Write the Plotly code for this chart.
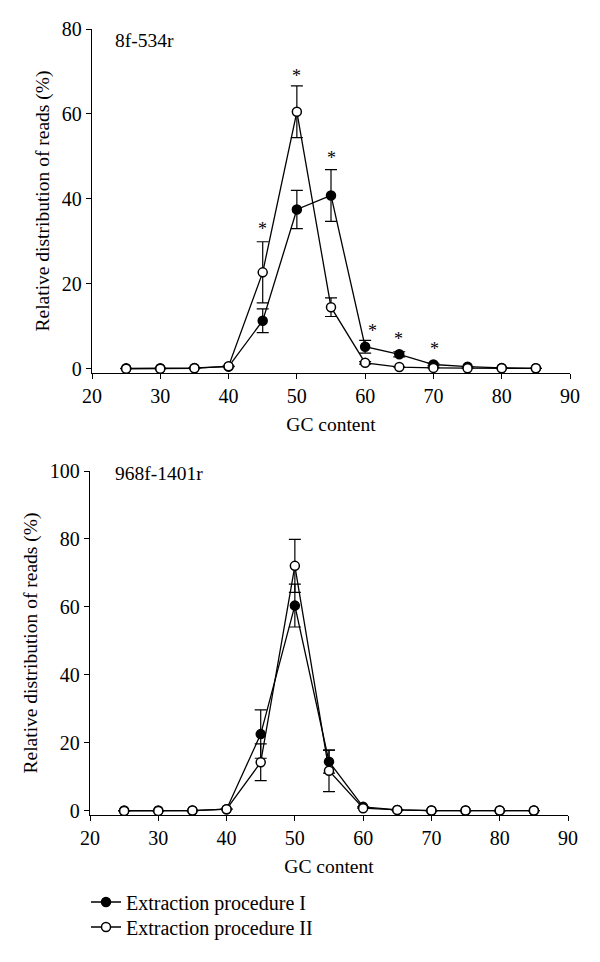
import plotly.graph_objects as go

gc = [25, 30, 35, 40, 45, 50, 55, 60, 65, 70, 75, 80, 85]

# Panel A: 8f-534r
a_proc1 = [0.1, 0.1, 0.2, 0.5, 11.3, 37.5, 40.8, 5.2, 3.4, 1.0, 0.5, 0.2, 0.1]
a_proc1_err = [0, 0, 0, 0, 2.8, 4.5, 6.1, 1.5, 0.6, 0.3, 0, 0, 0]
a_proc2 = [0.0, 0.0, 0.1, 0.6, 22.7, 60.5, 14.5, 1.4, 0.4, 0.2, 0.1, 0.1, 0.1]
a_proc2_err = [0, 0, 0, 0, 7.2, 6.1, 2.2, 0.3, 0, 0, 0, 0, 0]
a_star_x = [45, 50, 55, 61.1, 64.9, 70.2]
a_star_y = [32.8, 69.0, 49.7, 8.8, 7.0, 4.6]

# Panel B: 968f-1401r
b_proc1 = [0.1, 0.1, 0.1, 0.5, 22.6, 60.4, 14.5, 1.2, 0.3, 0.1, 0.1, 0.1, 0.1]
b_proc1_err = [0, 0, 0, 0, 7.1, 6.3, 3.4, 0, 0, 0, 0, 0, 0]
b_proc2 = [0.0, 0.0, 0.1, 0.5, 14.3, 72.1, 11.8, 0.8, 0.3, 0.1, 0.1, 0.1, 0.1]
b_proc2_err = [0, 0, 0, 0, 5.4, 7.8, 6.1, 0, 0, 0, 0, 0, 0]

x_ticks = [20, 30, 40, 50, 60, 70, 80, 90]
a_y_ticks = [0, 20, 40, 60, 80]
b_y_ticks = [0, 20, 40, 60, 80, 100]

names = ["Extraction procedure I", "Extraction procedure II"]
FONT = "Liberation Serif"

# page body has an 8px margin; figure is sized so that it fills the window
OFF = 8
W, H = 600 - OFF, 962 - OFF
def xp(p):
    return (p - OFF) / W
def yp(p):
    return 1 - (p - OFF) / H

fig = go.Figure()

def add_pair(p1, e1, p2, e2, xa, ya, show):
    err_style = dict(type="data", visible=True, color="black", thickness=1.2, width=6)
    fig.add_trace(go.Scatter(
        x=gc, y=p1, mode="lines+markers", name=names[0], showlegend=show, legend="legend",
        line=dict(color="black", width=1.3),
        marker=dict(symbol="circle", size=9, color="black", line=dict(color="black", width=1.5)),
        error_y=dict(array=e1, **err_style), xaxis=xa, yaxis=ya))
    fig.add_trace(go.Scatter(
        x=gc, y=p2, mode="lines+markers", name=names[1], showlegend=show, legend="legend2",
        line=dict(color="black", width=1.3),
        marker=dict(symbol="circle", size=9, color="white", line=dict(color="black", width=1.5)),
        error_y=dict(array=e2, **err_style), xaxis=xa, yaxis=ya))

add_pair(a_proc1, a_proc1_err, a_proc2, a_proc2_err, "x", "y", True)
add_pair(b_proc1, b_proc1_err, b_proc2, b_proc2_err, "x2", "y2", False)

axis_common = dict(showline=True, linecolor="black", linewidth=1.3, ticks="outside",
                   ticklen=5, tickwidth=1.3, tickcolor="black", showgrid=False,
                   zeroline=False, tickfont=dict(family=FONT, size=20, color="black"),
                   automargin=False)
title_font = dict(family=FONT, size=19.5, color="black")
legend_common = dict(xanchor="left", yanchor="middle", itemwidth=30,
                     font=dict(family=FONT, size=20, color="black"), bgcolor="rgba(0,0,0,0)")

fig.update_layout(
    width=W, height=H,
    margin=dict(l=0, r=0, t=0, b=0),
    paper_bgcolor="white", plot_bgcolor="white",
    font=dict(family=FONT, size=19.5, color="black"),
    xaxis=dict(domain=[xp(92), xp(570)], range=[20, 90], tickvals=x_ticks, anchor="y",
               title=dict(text="GC content", standoff=11, font=title_font), **axis_common),
    yaxis=dict(domain=[yp(373), yp(29)], range=[-1, 80], tickvals=a_y_ticks, anchor="x",
               title=dict(text="Relative distribution of reads (%)", standoff=7, font=title_font), **axis_common),
    xaxis2=dict(domain=[xp(90), xp(568)], range=[20, 90], tickvals=x_ticks, anchor="y2",
                title=dict(text="GC content", standoff=11, font=title_font), **axis_common),
    yaxis2=dict(domain=[yp(815), yp(471)], range=[-1.2, 100], tickvals=b_y_ticks, anchor="x2",
                title=dict(text="Relative distribution of reads (%)", standoff=7, font=title_font), **axis_common),
    legend=dict(x=xp(86), y=yp(902), **legend_common),
    legend2=dict(x=xp(86), y=yp(927), **legend_common),
    showlegend=True,
)

annotations = []
for sx, sy in zip(a_star_x, a_star_y):
    annotations.append(dict(x=sx, y=sy, xref="x", yref="y", text="*", showarrow=False,
                            font=dict(family=FONT, size=18, color="black"),
                            xanchor="center", yanchor="middle"))
annotations.append(dict(x=(113 - 92) / 478, y=yp(40), xref="x domain", yref="paper", text="8f-534r",
                        showarrow=False, xanchor="left", yanchor="middle", font=title_font))
annotations.append(dict(x=(113 - 90) / 478, y=yp(473), xref="x2 domain", yref="paper", text="968f-1401r",
                        showarrow=False, xanchor="left", yanchor="middle", font=title_font))
fig.update_layout(annotations=annotations)

fig.write_html("out.html")
